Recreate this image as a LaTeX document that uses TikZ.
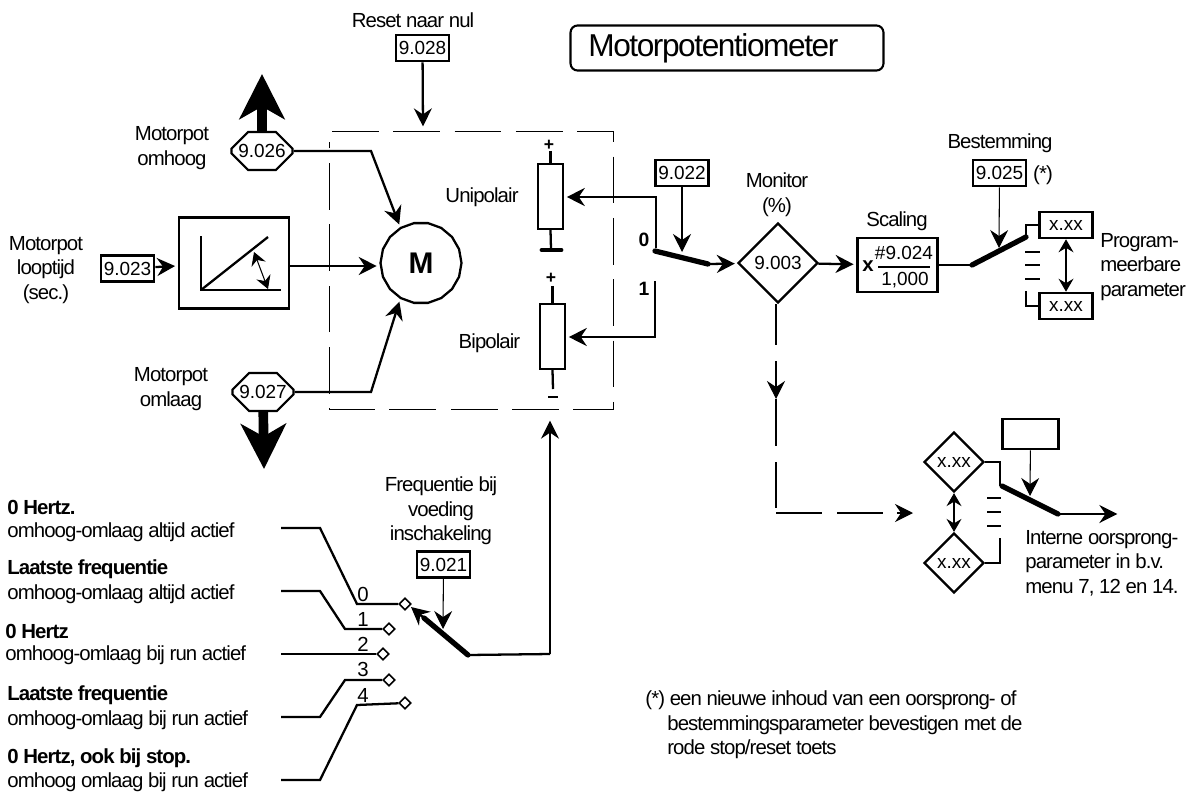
\documentclass[tikz,border=0pt]{standalone}
\usepackage{fontspec}
\setmainfont[LetterSpace=-4.5]{Liberation Sans}
\newfontfamily\cijfer{Liberation Sans}
\usetikzlibrary{shapes.geometric,shapes.misc,arrows.meta}
\tikzset{
  px/.style={x=0.02cm,y=-0.02cm},
  texto/.style={font=\fontsize{11.6}{14}\selectfont,align=center,inner sep=0pt},
  textoizq/.style={texto,anchor=west,align=left},
  negrita/.style={textoizq,font=\fontsize{11.6}{14}\selectfont\bfseries},
  num/.style={font=\cijfer\fontsize{10.8}{13}\selectfont},
  caja/.style={draw,line width=1.5pt,inner sep=0pt,minimum width=1.06cm,minimum height=0.52cm,num},
  octa/.style={draw,line width=1.2pt,chamfered rectangle,chamfered rectangle xsep=0.24cm,chamfered rectangle ysep=0.2cm,inner sep=0pt,minimum width=1.22cm,minimum height=0.76cm,num},
  rombo/.style={draw,line width=1.3pt,diamond,aspect=1,inner sep=0pt,minimum size=1.6cm,num},
  rombito/.style={rombo,minimum size=1.2cm},
  punta/.style={draw,line width=0.9pt,diamond,aspect=1,inner sep=0pt,minimum size=0.24cm},
  weerstand/.style={draw,line width=1.3pt,minimum width=0.5cm,minimum height=1.3cm,inner sep=0pt},
  lijn/.style={line width=1.3pt},
  flecha/.style={lijn,shorten >=1.5pt,-{Stealth[length=3.6mm,width=3.6mm,inset=1.2mm]}},
  dun/.style={line width=0.6pt,-{Stealth[length=3.6mm,width=3.6mm,inset=1.2mm]}},
  dundoble/.style={line width=0.6pt,{Stealth[length=2.6mm,width=3mm,inset=0.9mm]}-{Stealth[length=2.6mm,width=3mm,inset=0.9mm]}},
  grueso/.style={line width=3pt,line cap=round},
  zwaar/.style={line width=5.5pt,-{Stealth[length=9mm,width=9mm,inset=2.5mm]}},
  zona/.style={draw,line width=0.5pt,dash pattern=on 26.6pt off 8.3pt},
}
\begin{document}
\begin{tikzpicture}[px]
  \useasboundingbox (0,0) rectangle (1189,791);
  % kop
  \node[draw,line width=1.2pt,rounded corners=4pt,minimum width=6.26cm,minimum height=0.9cm] (titel) at (727,48) {};
  \node[texto,anchor=west,font=\fontsize{18}{20}\selectfont] (titeltekst) at (588,48) {Motorpotentiometer};
  \node[texto] (reset) at (413,20) {Reset naar nul};
  \node[caja] (p28) at (422.5,48) {9.028};
  \coordinate (zonatop) at (423,129);
  \draw[flecha] (p28) -- (zonatop);
  % zone
  \draw[zona] (332,131) -- (613,131) -- (613,409) -- (329,409) -- (329,142);
  % ingangen
  \node[octa] (p26) at (262,151) {9.026};
  \node[octa] (p27) at (263,392) {9.027};
  \coordinate (optip) at (262,74);
  \coordinate (neertip) at (264,469);
  \draw[zwaar] (p26) -- (optip);
  \draw[zwaar] (p27) -- (neertip);
  \node[texto] (omhoog) at (172,148) {Motorpot\\omhoog};
  \node[texto] (omlaag) at (171,389) {Motorpot\\omlaag};
  \node[texto] (looptijd) at (46,270) {Motorpot\\looptijd\\(sec.)};
  \node[caja] (p23) at (127.5,268.5) {9.023};
  \node[draw,line width=1.5pt,minimum width=2.2cm,minimum height=1.82cm,inner sep=0pt] (ramp) at (234,263) {};
  \draw[flecha] (p23) -- (ramp);
  \draw[lijn] (201,236) -- (201,290) -- (281,290);
  \draw[lijn] (201,290) -- (268,237);
  \draw[dundoble] (254,252) -- (268,289);
  \node[draw,line width=1.3pt,regular polygon,regular polygon sides=18,minimum size=1.62cm,inner sep=0pt,font=\fontsize{17}{18}\selectfont\bfseries] (motor) at (421,263) {M};
  \coordinate (rampuit) at (289,266);
  \draw[flecha] (rampuit) -- (motor.west |- rampuit);
  \draw[flecha] (p26) -- (371,151) -- (motor.120);
  \draw[flecha] (p27) -- (371,392) -- (motor.240);
  % potmeters
  \node[texto] (uni) at (482,197) {Unipolair};
  \node[texto] (bi) at (489.5,343) {Bipolair};
  \node[weerstand] (rboven) at (550.5,196.5) {};
  \node[weerstand] (ronder) at (552.5,336.5) {};
  \node[texto,font=\fontsize{10}{10}\selectfont\bfseries] (plus1) at (549,145) {+};
  \node[texto,font=\fontsize{10}{10}\selectfont\bfseries] (plus2) at (551,278) {+};
  \coordinate (aard) at (551,249);
  \coordinate (min) at (553,389);
  \draw[lijn] (rboven.north) ++(0,-12) -- (rboven.north);
  \draw[lijn] (rboven.south) -- (aard);
  \draw[line width=2.8pt,line cap=round] (542,250) -- (561,250);
  \draw[lijn] (ronder.north) ++(0,-17) -- (ronder.north);
  \draw[lijn] (ronder.south) -- (min);
  \draw[line width=0.6pt] (548,397) -- (558,397);
  % schakelaar monitor
  \node[caja] (p22) at (682,173) {9.022};
  \node[texto,font=\fontsize{11}{12}\selectfont\bfseries] (nul) at (644,240) {0};
  \node[texto,font=\fontsize{11}{12}\selectfont\bfseries] (een) at (644,289) {1};
  \coordinate (s0) at (656,248);
  \coordinate (s1) at (655,281);
  \coordinate (sw) at (708,264);
  \draw[flecha] (s0) -- (656,197) -- (rboven.east |- 656,197);
  \draw[flecha] (s1) -- (655,337) -- (ronder.east |- 655,337);
  \draw[grueso] (s0) ++(-1,3) -- (sw);
  \node[rombo] (mon) at (778,263) {9.003};
  \draw[flecha] (sw) -- (mon);
  \draw[dun] (p22) -- (682,252);
  \node[texto] (monitor) at (777,195) {Monitor\\(\%)};
  % scaling
  \node[texto] (scalingt) at (897,221) {Scaling};
  \node[draw,line width=1.5pt,minimum width=1.6cm,minimum height=1.08cm,inner sep=0pt] (scaling) at (897.5,265) {};
  \node[texto,font=\fontsize{11.6}{12}\selectfont\bfseries] (maal) at (868,266) {x};
  \node[num,inner sep=0pt] (teller) at (904,253) {\#9.024};
  \node[num,inner sep=0pt] (noemer) at (905,280) {1,000};
  \draw[lijn] (878,267) -- (930,267);
  \draw[flecha] (mon) -- (scaling);
  \coordinate (a) at (972,265);
  \coordinate (b) at (1026,237);
  \draw[lijn] (scaling.east |- a) -- (a);
  \draw[grueso] (a) -- (b);
  \node[caja] (xboven) at (1066,225) {x.xx};
  \node[caja] (xonder) at (1066,306) {x.xx};
  \draw[lijn] (b) -- (1026,225) -- (xboven);
  \draw[lijn] (1026,291) -- (1026,306) -- (xonder);
  \foreach \y in {252,265,279} \draw[lijn] (1025,\y) -- (1040,\y);
  \draw[dundoble] (xboven) -- (xonder);
  \node[texto] (best) at (1000,143) {Bestemming};
  \node[caja] (p25) at (999.5,173) {9.025};
  \node[texto] (ster) at (1043,175) {(*)};
  \draw[dun] (p25) -- (999,248);
  \node[textoizq] (prog) at (1100,267) {Program-\\meerbare\\parameter};
  % rechts onder
  \node[rombito] (ruit1) at (954,462) {x.xx};
  \node[rombito] (ruit2) at (954,563) {x.xx};
  \node[draw,line width=1.5pt,minimum width=1.12cm,minimum height=0.6cm,inner sep=0pt] (leeg) at (1030.5,434) {};
  \coordinate (c) at (1002,486);
  \coordinate (d) at (1058,514);
  \coordinate (e) at (1120,514);
  \draw[lijn] (ruit1) -- (1000,462) -- (1000,486);
  \draw[lijn] (ruit2) -- (1000,563) -- (1000,538);
  \draw[grueso] (c) -- (d);
  \draw[flecha] (d) -- (e);
  \foreach \y in {498,512,526} \draw[lijn] (987,\y) -- (1001,\y);
  \draw[dundoble] (ruit1) -- (ruit2);
  \draw[dun] (leeg) -- (1030,496);
  \node[textoizq] (intern) at (1025,563) {Interne oorsprong-\\parameter in b.v.\\menu 7, 12 en 14.};
  % monitor naar beneden
  \coordinate (pijl1) at (776,399);
  \coordinate (pijl2) at (913,513);
  \draw[line width=0.6pt] (mon.south -| pijl1) -- (776,345);
  \draw[dun] (776,361) -- (pijl1);
  \draw[line width=0.6pt] (pijl1) -- (776,446);
  \draw[line width=0.6pt] (776,462) -- (776,508);
  \draw[line width=0.6pt] (776,513) -- (822,513);
  \draw[line width=0.6pt] (837,513) -- (883,513);
  \draw[dun] (897,513) -- (pijl2);
  % onderste keuze
  \node[negrita] (t0) at (7,507) {0 Hertz.};
  \node[textoizq] (o0) at (7,532) {omhoog-omlaag altijd actief};
  \node[negrita] (t1) at (7,569) {Laatste frequentie};
  \node[textoizq] (o1) at (7,594) {omhoog-omlaag altijd actief};
  \node[negrita] (t2) at (5,631) {0 Hertz};
  \node[textoizq] (o2) at (5,655) {omhoog-omlaag bij run actief};
  \node[negrita] (t3) at (7,695) {Laatste frequentie};
  \node[textoizq] (o3) at (7,720) {omhoog-omlaag bij run actief};
  \node[negrita] (t4) at (7,758) {0 Hertz, ook bij stop.};
  \node[textoizq] (o4) at (7,782) {omhoog omlaag bij run actief};
  \node[punta] (d0) at (405,604) {};
  \node[punta] (d1) at (389,629) {};
  \node[punta] (d2) at (383,654) {};
  \node[punta] (d3) at (389,680) {};
  \node[punta] (d4) at (405,703) {};
  \draw[lijn] (281,528) -- (320,528) -- (357,604) -- (d0);
  \draw[lijn] (281,591) -- (320,591) -- (345,629) -- (d1);
  \draw[lijn] (281,654) -- (d2);
  \draw[lijn] (281,717) -- (320,717) -- (345,680) -- (d3);
  \draw[lijn] (281,780) -- (320,780) -- (357,705) -- (d4);
  \foreach \n/\y in {0/594,1/619,2/644,3/669,4/695}
    \node[texto] (n\n) at (363,\y) {\n};
  \node[texto] (freq) at (441,511) {Frequentie bij\\voeding\\inschakeling};
  \node[caja] (p21) at (443.5,564.5) {9.021};
  \coordinate (f) at (468,655);
  \coordinate (g) at (550,654);
  \coordinate (h) at (550,418);
  \coordinate (dtip) at (411,607);
  \draw[grueso] (f) -- (424,618);
  \draw[lijn,-{Stealth[length=3.6mm,width=3.6mm,inset=1.2mm]}] (424,618) -- (dtip);
  \draw[lijn] (f) -- (g);
  \draw[flecha] (g) -- (h);
  \draw[dun] (p21) -- (443,629);
  % voetnoot
  \node[textoizq] (voet) at (645,725) {(*) een nieuwe inhoud van een oorsprong- of\\\hspace*{4.4mm}bestemmingsparameter bevestigen met de\\\hspace*{4.4mm}rode stop/reset toets};
\end{tikzpicture}
\end{document}
